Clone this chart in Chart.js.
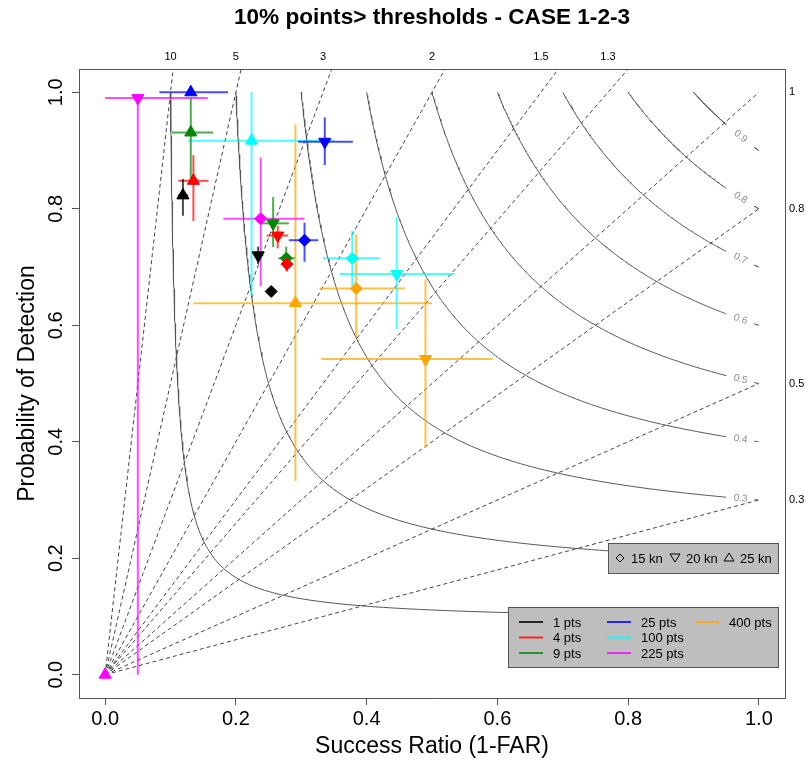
<!DOCTYPE html>
<html><head><meta charset="utf-8">
<script src="https://cdn.jsdelivr.net/npm/chart.js@4/dist/chart.umd.min.js"></script>
<style>html,body{margin:0;padding:0;background:#fff;}#wrap{width:809px;height:760px;}</style>
</head><body><div id="wrap"><canvas id="c" width="809" height="760"></canvas></div>
<script>
// ---------- DATA ----------
const title = '10% points> thresholds - CASE 1-2-3';
const categories = ['1 pts', '4 pts', '9 pts', '25 pts', '100 pts', '225 pts', '400 pts'];
const colors = ['#000000', '#ff0000', '#008800', '#0000ff', '#00ffff', '#ff00ff', '#ffa500'];
const speeds = ['15 kn', '20 kn', '25 kn'];
// values per series, ordered [15 kn, 20 kn, 25 kn]
const successRatio = [
  [0.254, 0.234, 0.119],
  [0.278, 0.264, 0.135],
  [0.277, 0.257, 0.131],
  [0.305, 0.336, 0.131],
  [0.378, 0.446, 0.224],
  [0.238, 0.050, 0.000],
  [0.384, 0.490, 0.291]
];
const pod = [
  [0.658, 0.720, 0.823],
  [0.705, 0.754, 0.848],
  [0.715, 0.775, 0.931],
  [0.746, 0.915, 1.000],
  [0.715, 0.688, 0.917],
  [0.783, 0.990, 0.000],
  [0.663, 0.542, 0.638]
];
const srLow = [
  [null, 0.228, 0.111],
  [0.271, 0.247, 0.112],
  [0.265, 0.237, 0.102],
  [0.281, 0.295, 0.083],
  [0.333, 0.359, 0.127],
  [0.181, 0.000, null],
  [0.328, 0.331, 0.135]
];
const srHigh = [
  [null, 0.242, 0.127],
  [0.287, 0.280, 0.158],
  [0.290, 0.281, 0.165],
  [0.326, 0.379, 0.188],
  [0.421, 0.534, 0.350],
  [0.305, 0.157, null],
  [0.458, 0.593, 0.500]
];
const podLow = [
  [null, 0.705, 0.788],
  [0.692, 0.732, 0.779],
  [0.694, 0.734, 0.846],
  [0.709, 0.875, null],
  [0.668, 0.593, 0.651],
  [0.667, 0.000, null],
  [0.579, 0.389, 0.333]
];
const podHigh = [
  [null, 0.735, 0.851],
  [0.711, 0.771, 0.892],
  [0.735, 0.820, 0.990],
  [0.776, 0.957, null],
  [0.762, 0.786, 1.000],
  [0.888, 0.990, null],
  [0.756, 0.679, 0.945]
];
const biasLines = [10, 5, 3, 2, 1.5, 1.3, 1, 0.8, 0.5, 0.3];
const topBiasLabels = [10, 5, 3, 2, 1.5, 1.3];
const rightBiasLabels = [1, 0.8, 0.5, 0.3];
const csiLevels = [0.1, 0.2, 0.3, 0.4, 0.5, 0.6, 0.7, 0.8, 0.9];
const axisTicks = [0, 0.2, 0.4, 0.6, 0.8, 1.0];

// ---------- STYLE ----------
const FONT = '"Liberation Sans", Arial, Helvetica, sans-serif';
Chart.defaults.font.family = FONT;
const shapes = ['rectRot', 'triangle', 'triangle'];
const rotations = [0, 180, 0];
const radii = [6, 7, 7];
function rgba(hex, a) {
  const n = parseInt(hex.slice(1), 16);
  return `rgba(${(n >> 16) & 255},${(n >> 8) & 255},${n & 255},${a})`;
}
const LINE_END = 0.95, LABEL_AT = 0.972, TAIL_START = 0.993;

function csiPod(c, sr) { return 1 / (1 / c - 1 / sr + 1); }
function csiSr(c, p) { return 1 / (1 / c - 1 / p + 1); }
function csiCurve(c, from, to) {
  const xs = [];
  for (let k = 0; k <= 120; k++) xs.push(from + (to - from) * k / 120);
  for (let k = 0; k <= 120; k++) {
    const p = c + (1 - c) * k / 120;
    const s = csiSr(c, p);
    if (s >= from && s <= to) xs.push(s);
  }
  xs.sort((a, b) => a - b);
  return xs.map(s => ({x: s, y: csiPod(c, s)}));
}

const datasets = [];
categories.forEach((cat, i) => {
  datasets.push({
    label: cat, order: 0, showLine: false,
    data: successRatio[i].map((s, j) => ({x: s, y: pod[i][j]})),
    backgroundColor: colors[i], borderColor: colors[i], borderWidth: 1,
    pointStyle: shapes, pointRotation: rotations, pointRadius: radii
  });
});
categories.forEach((cat, i) => {
  for (let j = 0; j < 3; j++) {
    if (srLow[i][j] !== null) datasets.push({
      order: 1, showLine: true, pointRadius: 0, borderWidth: 2,
      borderColor: rgba(colors[i], 0.7),
      data: [{x: srLow[i][j], y: pod[i][j]}, {x: srHigh[i][j], y: pod[i][j]}]
    });
    if (podLow[i][j] !== null) datasets.push({
      order: 1, showLine: true, pointRadius: 0, borderWidth: 2,
      borderColor: rgba(colors[i], 0.7),
      data: [{x: successRatio[i][j], y: podLow[i][j]}, {x: successRatio[i][j], y: podHigh[i][j]}]
    });
  }
});
csiLevels.forEach(c => {
  datasets.push({order: 2, showLine: true, pointRadius: 0, borderWidth: 1, borderColor: '#555', data: csiCurve(c, c, LINE_END)});
  datasets.push({order: 2, showLine: true, pointRadius: 0, borderWidth: 1, borderColor: '#555', data: csiCurve(c, TAIL_START, 1)});
});
biasLines.forEach(b => {
  datasets.push({order: 3, showLine: true, pointRadius: 0, borderWidth: 1, borderColor: '#444', borderDash: [4, 3],
    data: [{x: 0, y: 0}, {x: 1, y: b}]});
});

// ---------- PLUGIN: title, contour labels, legends ----------
const decor = {
  id: 'decor',
  afterDraw(chart) {
    const ctx = chart.ctx, ca = chart.chartArea;
    const xs = chart.scales.x, ys = chart.scales.y;
    ctx.save();
    // contour labels
    ctx.beginPath(); ctx.rect(ca.left, ca.top, ca.right - ca.left, ca.bottom - ca.top); ctx.clip();
    ctx.font = '10px ' + FONT; ctx.fillStyle = '#8c8c8c'; ctx.textAlign = 'center'; ctx.textBaseline = 'middle';
    csiLevels.forEach(c => {
      const x1 = xs.getPixelForValue(LABEL_AT - 0.01), y1 = ys.getPixelForValue(csiPod(c, LABEL_AT - 0.01));
      const x2 = xs.getPixelForValue(LABEL_AT + 0.01), y2 = ys.getPixelForValue(csiPod(c, LABEL_AT + 0.01));
      const px = xs.getPixelForValue(LABEL_AT), py = ys.getPixelForValue(csiPod(c, LABEL_AT));
      ctx.save(); ctx.translate(px, py); ctx.rotate(Math.atan2(y2 - y1, x2 - x1));
      ctx.fillText(String(c), 0, 0); ctx.restore();
    });
    ctx.restore();
    ctx.save();
    // legend 1: shapes
    const b1x = ca.right - 177, b1y = ca.bottom - 155, b1w = 170, b1h = 30;
    ctx.fillStyle = '#bebebe'; ctx.fillRect(b1x, b1y, b1w, b1h);
    ctx.strokeStyle = '#555'; ctx.lineWidth = 1; ctx.strokeRect(b1x + 0.5, b1y + 0.5, b1w, b1h);
    const cy = b1y + 15;
    const symX = [b1x + 12, b1x + 67, b1x + 121];
    ctx.strokeStyle = '#000'; ctx.lineWidth = 1;
    ctx.beginPath(); ctx.moveTo(symX[0] - 4, cy); ctx.lineTo(symX[0], cy - 4); ctx.lineTo(symX[0] + 4, cy); ctx.lineTo(symX[0], cy + 4); ctx.closePath(); ctx.stroke();
    ctx.beginPath(); ctx.moveTo(symX[1] - 5, cy - 4); ctx.lineTo(symX[1] + 5, cy - 4); ctx.lineTo(symX[1], cy + 4); ctx.closePath(); ctx.stroke();
    ctx.beginPath(); ctx.moveTo(symX[2] - 5, cy + 3); ctx.lineTo(symX[2] + 5, cy + 3); ctx.lineTo(symX[2], cy - 5); ctx.closePath(); ctx.stroke();
    ctx.fillStyle = '#000'; ctx.font = '13px ' + FONT; ctx.textAlign = 'left'; ctx.textBaseline = 'middle';
    speeds.forEach((s, k) => ctx.fillText(s, symX[k] + 11, cy + 1));
    // legend 2: colours
    const b2x = ca.right - 277, b2y = ca.bottom - 91, b2w = 270, b2h = 60;
    ctx.fillStyle = '#bebebe'; ctx.fillRect(b2x, b2y, b2w, b2h);
    ctx.strokeStyle = '#555'; ctx.strokeRect(b2x + 0.5, b2y + 0.5, b2w, b2h);
    const colX = [b2x + 11, b2x + 99, b2x + 187];
    const rowY = [b2y + 15, b2y + 30.5, b2y + 46];
    categories.forEach((cat, i) => {
      const col = Math.floor(i / 3), row = i % 3;
      ctx.strokeStyle = rgba(colors[i], 0.8); ctx.lineWidth = 2;
      ctx.beginPath(); ctx.moveTo(colX[col], rowY[row]); ctx.lineTo(colX[col] + 24, rowY[row]); ctx.stroke();
      ctx.fillStyle = '#000';
      ctx.fillText(cat, colX[col] + 34, rowY[row] + 1);
    });
    // title
    ctx.font = 'bold 22.6px ' + FONT; ctx.textAlign = 'center'; ctx.textBaseline = 'middle';
    ctx.fillText(title, (ca.left + ca.right) / 2, 18);
    ctx.restore();
  }
};

new Chart(document.getElementById('c'), {
  type: 'scatter',
  data: {datasets},
  plugins: [decor],
  options: {
    responsive: false, animation: false, devicePixelRatio: 1, events: [],
    layout: {padding: 0},
    plugins: {legend: {display: false}, tooltip: {enabled: false}, title: {display: false}},
    elements: {line: {tension: 0}},
    scales: {
      x: {
        type: 'linear', position: 'bottom', min: -0.04, max: 1.04,
        afterBuildTicks: s => { s.ticks = axisTicks.map(v => ({value: v})); },
        afterFit: s => { s.height = 62; },
        ticks: {callback: v => Number(v).toFixed(1), font: {size: 20}, color: '#000', padding: 2, maxRotation: 0, autoSkip: false},
        grid: {display: true, drawOnChartArea: false, drawTicks: true, tickLength: 7, color: '#555'},
        border: {display: true, color: '#555', width: 1},
        title: {display: true, text: 'Success Ratio (1-FAR)', font: {size: 23}, color: '#000', padding: {top: 0, bottom: 0}}
      },
      x2: {
        type: 'linear', position: 'top', min: -0.04, max: 1.04,
        afterBuildTicks: s => { s.ticks = topBiasLabels.map(b => ({value: 1 / b})); },
        afterFit: s => { s.height = 69; },
        ticks: {callback: (v, i) => String(topBiasLabels[i]), font: {size: 11}, color: '#000', padding: 5, maxRotation: 0, autoSkip: false},
        grid: {display: false, drawTicks: false},
        border: {display: true, color: '#555', width: 1}
      },
      y: {
        type: 'linear', position: 'left', min: -0.04, max: 1.04,
        afterBuildTicks: s => { s.ticks = axisTicks.map(v => ({value: v})); },
        afterFit: s => { s.width = 79; },
        ticks: {callback: v => Number(v).toFixed(1), font: {size: 20}, color: '#000', padding: 2, minRotation: 90, maxRotation: 90, crossAlign: 'center', autoSkip: false},
        grid: {display: true, drawOnChartArea: false, drawTicks: true, tickLength: 7, color: '#555'},
        border: {display: true, color: '#555', width: 1},
        title: {display: true, text: 'Probability of Detection', font: {size: 23}, color: '#000', padding: {top: 14, bottom: 0}}
      },
      y2: {
        type: 'linear', position: 'right', min: -0.04, max: 1.04,
        afterBuildTicks: s => { s.ticks = rightBiasLabels.map(b => ({value: b})); },
        afterFit: s => { s.width = 24; },
        ticks: {callback: (v, i) => String(rightBiasLabels[i]), font: {size: 11}, color: '#000', padding: 4, autoSkip: false},
        grid: {display: false, drawTicks: false},
        border: {display: true, color: '#555', width: 1}
      }
    }
  }
});
</script></body></html>
